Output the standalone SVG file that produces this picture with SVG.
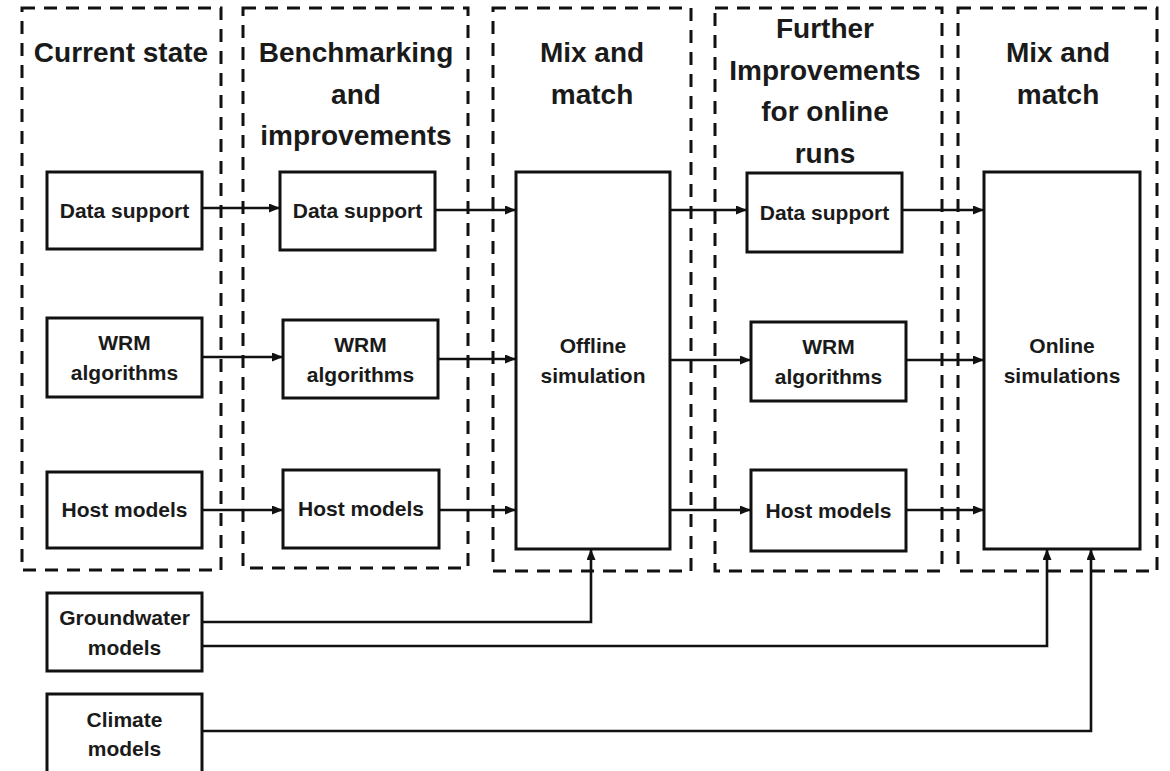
<svg xmlns="http://www.w3.org/2000/svg" width="1170" height="771" viewBox="0 0 1170 771">
  <defs>
    <style>
      .frame { fill: none; stroke: #111; stroke-width: 3; stroke-dasharray: 13 9; }
      .box { fill: #fff; stroke: #111; stroke-width: 3; }
      .title { font-family: "Liberation Sans", Arial, sans-serif; font-weight: bold; font-size: 28px; fill: #1a1a1a; text-anchor: middle; }
      .label { font-family: "Liberation Sans", Arial, sans-serif; font-weight: bold; font-size: 21px; fill: #1a1a1a; text-anchor: middle; }
      .conn { fill: none; stroke: #111; stroke-width: 2.6; marker-end: url(#arrow); }
    </style>
    <marker id="arrow" markerUnits="userSpaceOnUse" markerWidth="11" markerHeight="9" refX="11" refY="4.5" orient="auto">
      <path d="M0,0 L11,4.5 L0,9 z" fill="#111"/>
    </marker>
  </defs>

  <rect width="1170" height="771" fill="#fff"/>

  <!-- Stage frames -->
  <g id="stages">
    <rect class="frame" x="22" y="8" width="199" height="562"/>
    <rect class="frame" x="243" y="8" width="225" height="560"/>
    <rect class="frame" x="493" y="8" width="198" height="563"/>
    <rect class="frame" x="715" y="8" width="227" height="563"/>
    <rect class="frame" x="958" y="8" width="199" height="563"/>
  </g>

  <!-- Stage titles -->
  <g id="stage-titles">
    <text class="title" x="121" y="62">Current state</text>
    <text class="title" x="356" y="62">Benchmarking</text>
    <text class="title" x="356" y="104">and</text>
    <text class="title" x="356" y="145">improvements</text>
    <text class="title" x="592" y="62">Mix and</text>
    <text class="title" x="592" y="104">match</text>
    <text class="title" x="825" y="38">Further</text>
    <text class="title" x="825" y="80">Improvements</text>
    <text class="title" x="825" y="121">for online</text>
    <text class="title" x="825" y="163">runs</text>
    <text class="title" x="1058" y="62">Mix and</text>
    <text class="title" x="1058" y="104">match</text>
  </g>

  <!-- Connectors -->
  <g id="connectors">
    <path class="conn" d="M202,208 H280"/>
    <path class="conn" d="M202,357 H283"/>
    <path class="conn" d="M202,510 H283"/>
    <path class="conn" d="M435,210 H516"/>
    <path class="conn" d="M438,359 H516"/>
    <path class="conn" d="M439,510 H516"/>
    <path class="conn" d="M670,210 H747"/>
    <path class="conn" d="M670,360 H751"/>
    <path class="conn" d="M670,510 H751"/>
    <path class="conn" d="M902,210 H984"/>
    <path class="conn" d="M906,360 H984"/>
    <path class="conn" d="M906,510 H984"/>
    <path class="conn" d="M202,622 H591 V549"/>
    <path class="conn" d="M202,646 H1047 V549"/>
    <path class="conn" d="M202,731 H1091 V549"/>
  </g>

  <!-- Current state -->
  <g id="cur-data">
    <rect class="box" x="47" y="172" width="155" height="77"/>
    <text class="label" x="124.5" y="218">Data support</text>
  </g>
  <g id="cur-wrm">
    <rect class="box" x="47" y="318" width="155" height="79"/>
    <text class="label" x="124.5" y="350">WRM</text>
    <text class="label" x="124.5" y="380">algorithms</text>
  </g>
  <g id="cur-host">
    <rect class="box" x="47" y="472" width="155" height="76"/>
    <text class="label" x="124.5" y="517">Host models</text>
  </g>

  <!-- Benchmarking and improvements -->
  <g id="bench-data">
    <rect class="box" x="280" y="172" width="155" height="78"/>
    <text class="label" x="357.5" y="218">Data support</text>
  </g>
  <g id="bench-wrm">
    <rect class="box" x="283" y="320" width="155" height="78"/>
    <text class="label" x="360.5" y="352">WRM</text>
    <text class="label" x="360.5" y="382">algorithms</text>
  </g>
  <g id="bench-host">
    <rect class="box" x="283" y="470" width="156" height="78"/>
    <text class="label" x="361" y="516">Host models</text>
  </g>

  <!-- Offline simulation -->
  <g id="offline">
    <rect class="box" x="516" y="172" width="154" height="377"/>
    <text class="label" x="593" y="353">Offline</text>
    <text class="label" x="593" y="383">simulation</text>
  </g>

  <!-- Further improvements for online runs -->
  <g id="online-data">
    <rect class="box" x="747" y="173" width="155" height="79"/>
    <text class="label" x="824.5" y="220">Data support</text>
  </g>
  <g id="online-wrm">
    <rect class="box" x="751" y="322" width="155" height="79"/>
    <text class="label" x="828.5" y="354">WRM</text>
    <text class="label" x="828.5" y="384">algorithms</text>
  </g>
  <g id="online-host">
    <rect class="box" x="751" y="470" width="155" height="81"/>
    <text class="label" x="828.5" y="518">Host models</text>
  </g>

  <!-- Online simulations -->
  <g id="online">
    <rect class="box" x="984" y="172" width="156" height="377"/>
    <text class="label" x="1062" y="353">Online</text>
    <text class="label" x="1062" y="383">simulations</text>
  </g>

  <!-- External models -->
  <g id="groundwater">
    <rect class="box" x="47" y="593" width="155" height="78"/>
    <text class="label" x="124.5" y="625">Groundwater</text>
    <text class="label" x="124.5" y="655">models</text>
  </g>
  <g id="climate">
    <rect class="box" x="47" y="694" width="155" height="100"/>
    <text class="label" x="124.5" y="727">Climate</text>
    <text class="label" x="124.5" y="756">models</text>
  </g>
</svg>
